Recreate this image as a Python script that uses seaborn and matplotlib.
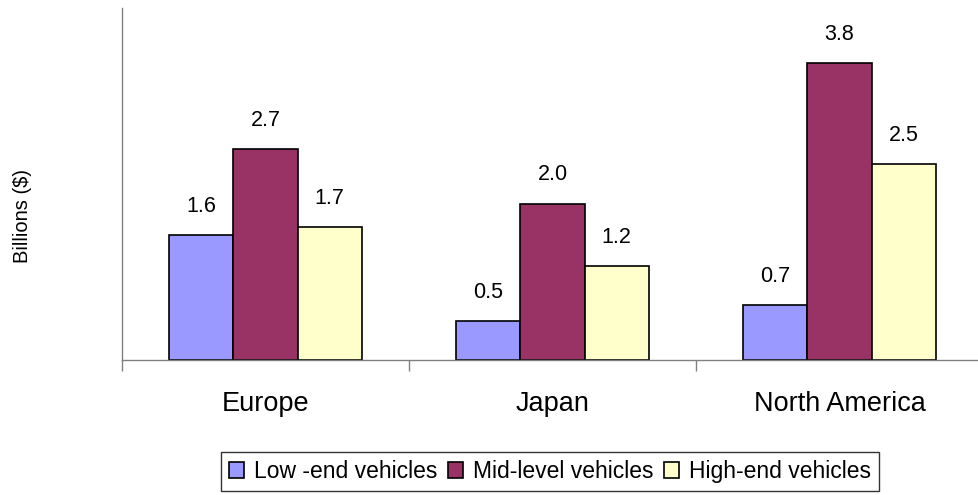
import matplotlib
matplotlib.use("Agg")
import matplotlib.pyplot as plt
from matplotlib.patches import Patch
import seaborn as sns
import pandas as pd

regions = ["Europe", "Japan", "North America"]
series = ["Low -end vehicles", "Mid-level vehicles", "High-end vehicles"]
low_end = [1.6, 0.5, 0.7]
mid_level = [2.7, 2.0, 3.8]
high_end = [1.7, 1.2, 2.5]
colors = ["#9999FF", "#993366", "#FFFFCC"]

rows = []
for s, vals in zip(series, [low_end, mid_level, high_end]):
    for r, v in zip(regions, vals):
        rows.append({"Region": r, "Series": s, "Value": v})
df = pd.DataFrame(rows)

sns.set_style("white")
plt.rcParams["font.family"] = ["Liberation Sans", "DejaVu Sans"]
plt.rcParams["text.color"] = "black"
plt.rcParams["axes.labelcolor"] = "black"
plt.rcParams["xtick.color"] = "black"

fig = plt.figure(figsize=(9.79, 4.95), dpi=100)
ax = fig.add_axes([122 / 979, 135 / 495, 861 / 979, 352 / 495])

sns.barplot(data=df, x="Region", y="Value", hue="Series", order=regions,
            hue_order=series, palette=colors, width=0.67, edgecolor="black",
            linewidth=1.2, errorbar=None, ax=ax, legend=False, saturation=1)

for cont in ax.containers:
    ax.bar_label(cont, fmt="%.1f", padding=13, fontsize=15.5, color="black")

ax.set_ylim(0, 4.5)
ax.set_xlim(-0.5, 2.5)
ax.set_yticks([])
ax.set_xlabel("")
ax.set_ylabel("Billions ($)", fontsize=14.5, color="black")
ax.yaxis.set_label_coords(-0.1045, 0.41)
ax.tick_params(axis="x", which="major", length=0, labelsize=19.5, pad=22, labelcolor="black")
ax.set_xticks([-0.5, 0.5, 1.5, 2.5], minor=True)
ax.tick_params(axis="x", which="minor", bottom=True, length=8, color="#808080",
               width=1, direction="out")

for side in ["top", "right"]:
    ax.spines[side].set_visible(False)
for side in ["left", "bottom"]:
    ax.spines[side].set_color("#808080")
    ax.spines[side].set_linewidth(1)

handles = [Patch(facecolor=c, edgecolor="black", linewidth=1.2) for c in colors]
leg = fig.legend(handles, series, loc="center", bbox_to_anchor=(550 / 979, 23.5 / 495),
                 ncol=3, fontsize=16.5, frameon=True, fancybox=False, edgecolor="black",
                 handlelength=0.65, handleheight=0.65, handletextpad=0.45, columnspacing=0.45,
                 borderpad=0.35, borderaxespad=0)
leg.get_frame().set_linewidth(1)
for t in leg.get_texts():
    t.set_color("black")

fig.savefig("out.png", dpi=100)
